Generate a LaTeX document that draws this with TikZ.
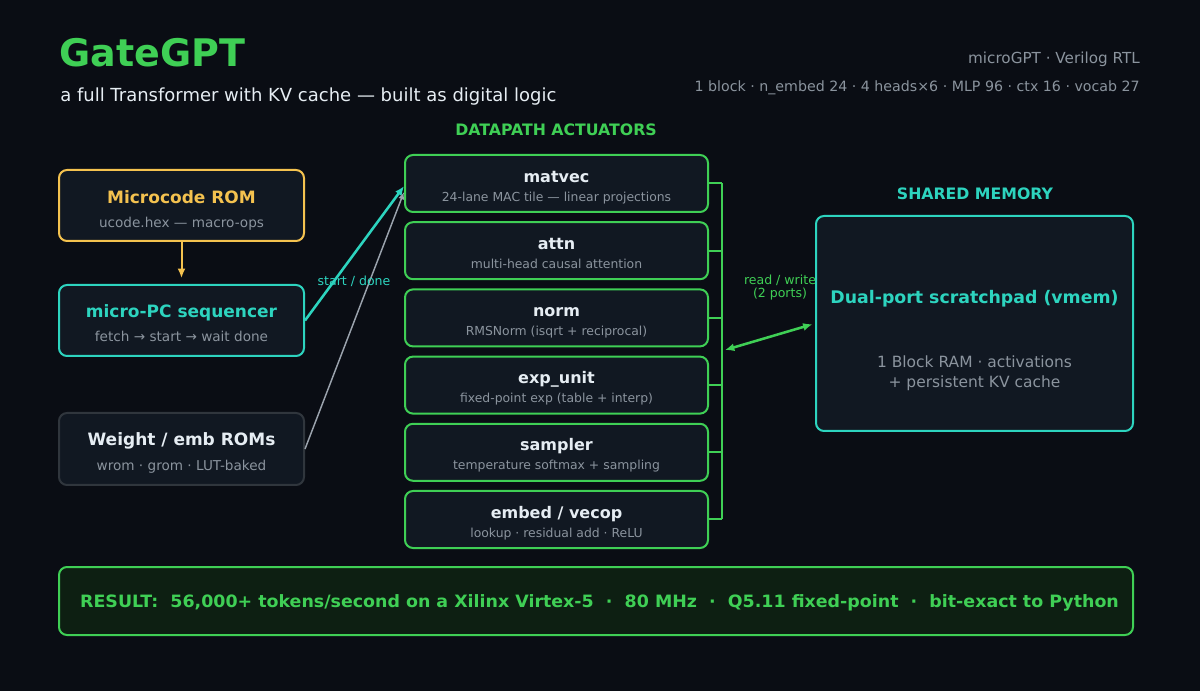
\documentclass[tikz,border=0pt]{standalone}
\usepackage{fontspec}
\setmainfont{DejaVu Sans}
\usepackage{graphicx}
\usepackage{tikz}
\usetikzlibrary{arrows.meta}
\usetikzlibrary{positioning}
\definecolor{bgc}{HTML}{0A0D14}
\definecolor{boxbg}{HTML}{111822}
\definecolor{mgreen}{HTML}{3FCF55}
\definecolor{mteal}{HTML}{2DD4BF}
\definecolor{myellow}{HTML}{F4C24F}
\definecolor{mgray}{HTML}{8B949E}
\definecolor{mwhite}{HTML}{E6EDF3}
\definecolor{medge}{HTML}{30363D}
\definecolor{mwire}{HTML}{9BA3AD}
\definecolor{resbg}{HTML}{0D1F12}
\tikzset{
  box/.style = {draw, fill = boxbg, rounded corners = 6pt, line width = 1.5pt, inner sep = 0,
    minimum width = 183.75pt, minimum height = 53.25pt},
  unit/.style = {box, draw = mgreen, minimum width = 227.25pt, minimum height = 42.75pt},
  btitle/.style = {anchor = mid, font = \bfseries\fontsize{12.75}{15}\selectfont},
  utitle/.style = {anchor = mid, text = mwhite, font = \bfseries\fontsize{12}{14}\selectfont},
  bsub/.style = {anchor = mid, text = mgray, font = \fontsize{10.2}{12}\selectfont},
  usub/.style = {anchor = mid, text = mgray, font = \fontsize{9.3}{11}\selectfont},
  head/.style = {anchor = mid, font = \bfseries\fontsize{11.8}{14}\selectfont},
  wlabel/.style = {font = \fontsize{9.4}{9.75}\selectfont, align = center},
  arr/.style = {-{Latex[length = 7pt, width = 6pt]}},
  bus/.style = {mgreen, line width = 1.5pt},
}

\begin{document}
\begin{tikzpicture}[x = 0.75pt, y = -0.75pt]
    \fill [bgc] (0, 0) rectangle (1200, 691);
    \useasboundingbox (0, 0) rectangle (1200, 691);

    % header
    \node [anchor = base west, inner sep = 0, text = mgreen, font = \bfseries\fontsize{28.5}{32}\selectfont]
      (title) at (59, 67) {GateGPT};
    \node [anchor = base west, inner sep = 0, text = mwhite, font = \fontsize{13.5}{16}\selectfont]
      (subtitle) at (60, 101.5) {a full Transformer with KV cache — built as digital logic};
    \node [anchor = base east, inner sep = 0, text = mgray, font = \fontsize{11.4}{14}\selectfont]
      (rtl) at (1140, 64) {microGPT · Verilog RTL};
    \node [anchor = base east, inner sep = 0, text = mgray, font = \fontsize{10.65}{13}\selectfont]
      (config) at (1140, 92) {1 block · n\_embed 24 · 4 heads×6 · MLP 96 · ctx 16 · vocab 27};

    % control side
    \node [box, draw = myellow] (ucode) at (181.5, 205.5) {};
    \node [btitle, text = myellow] (ucode-t) at (181.5, 199.5) {Microcode ROM};
    \node [bsub] (ucode-s) at (181.5, 223.5) {ucode.hex — macro-ops};

    \node [box, draw = mteal] (upc) at (181.5, 320.5) {};
    \node [btitle, text = mteal] (upc-t) at (181.5, 313.5) {micro-PC sequencer};
    \node [bsub] (upc-s) at (181.5, 337.5) {fetch → start → wait done};

    \node [box, draw = medge, minimum height = 54pt] (wrom) at (181.5, 449) {};
    \node [btitle, text = mwhite] (wrom-t) at (181.5, 441.5) {Weight / emb ROMs};
    \node [bsub] (wrom-s) at (181.5, 466.5) {wrom · grom · LUT-baked};

    % datapath
    \node [head, text = mgreen] (dp-head) at (556, 132) {DATAPATH ACTUATORS};

    \node [unit] (matvec) at (556.5, 183.5) {};
    \node [utitle] (matvec-t) at (556.5, 178.5) {matvec};
    \node [usub] (matvec-s) at (556.5, 197.5) {24-lane MAC tile — linear projections};

    \node [unit] (attn) at (556.5, 250.7) {};
    \node [utitle] (attn-t) at (556.5, 245.7) {attn};
    \node [usub] (attn-s) at (556.5, 264.7) {multi-head causal attention};

    \node [unit] (norm) at (556.5, 317.9) {};
    \node [utitle] (norm-t) at (556.5, 312.9) {norm};
    \node [usub] (norm-s) at (556.5, 331.9) {RMSNorm (isqrt + reciprocal)};

    \node [unit] (expunit) at (556.5, 385.1) {};
    \node [utitle] (expunit-t) at (556.5, 380.1) {exp\_unit};
    \node [usub] (expunit-s) at (556.5, 399.1) {fixed-point exp (table + interp)};

    \node [unit] (sampler) at (556.5, 452.3) {};
    \node [utitle] (sampler-t) at (556.5, 447.3) {sampler};
    \node [usub] (sampler-s) at (556.5, 466.3) {temperature softmax + sampling};

    \node [unit] (embed) at (556.5, 519.5) {};
    \node [utitle] (embed-t) at (556.5, 514.5) {embed / vecop};
    \node [usub] (embed-s) at (556.5, 533.5) {lookup · residual add · ReLU};

    % memory
    \node [head, text = mteal] (mem-head) at (975, 196) {SHARED MEMORY};
    \node [box, draw = mteal, minimum width = 237.75pt, minimum height = 161.25pt] (vmem) at (974.5, 323.5) {};
    \node [anchor = mid, text = mteal, font = \bfseries\fontsize{13}{15}\selectfont]
      (vmem-t) at (974.5, 300) {Dual-port scratchpad (vmem)};
    \node [text = mgray, font = \fontsize{11.6}{15}\selectfont, align = center]
      (vmem-s) at (974.5, 373) {1 Block RAM · activations\\+ persistent KV cache};

    % result bar
    \node [box, draw = mgreen, fill = resbg, minimum width = 805.5pt, minimum height = 51pt] (result) at (596, 601) {};
    \node [anchor = mid, text = mgreen, font = \bfseries\fontsize{12.75}{15}\selectfont] (result-t) at (599.5, 604)
      {\resizebox{779pt}{\height}{RESULT:\ \ 56,000+ tokens/second on a Xilinx Virtex-5\ \ ·\ \ 80 MHz\ \ ·\ \ Q5.11 fixed-point\ \ ·\ \ bit-exact to Python}};

    % wiring
    \draw [arr, myellow, line width = 1.5pt, shorten > = 4.5pt] (ucode.south) -- (upc.north);
    \draw [arr, mteal, line width = 1.9pt] (upc.east) -- ([yshift = -2pt] matvec.west);
    \draw [-{Latex[length = 5.5pt, width = 4.5pt]}, mwire, line width = 1.1pt] (wrom.east) -- ([yshift = -6.4pt] matvec.west);
    \node [wlabel, text = mteal] (sd) at (354, 281) {start / done};

    \coordinate (bustop) at (722, 183.5);
    \coordinate (busbot) at (722, 519.5);
    \draw [bus] (bustop) -- (busbot);
    \draw [bus] (matvec.east) -- (matvec.east -| bustop);
    \draw [bus] (attn.east) -- (attn.east -| bustop);
    \draw [bus] (norm.east) -- (norm.east -| bustop);
    \draw [bus] (expunit.east) -- (expunit.east -| bustop);
    \draw [bus] (sampler.east) -- (sampler.east -| bustop);
    \draw [bus] (embed.east) -- (embed.east -| bustop);

    \coordinate (rw) at (725, 350);
    \draw [{Latex[length = 7pt, width = 6pt]}-{Latex[length = 7pt, width = 6pt]}, mgreen, line width = 1.9pt, shorten > = 2pt] (rw) -- (vmem.west);
    \node [wlabel, text = mgreen] (rw-l) at (780, 288) {read / write\\(2 ports)};
  \end{tikzpicture}
\end{document}
